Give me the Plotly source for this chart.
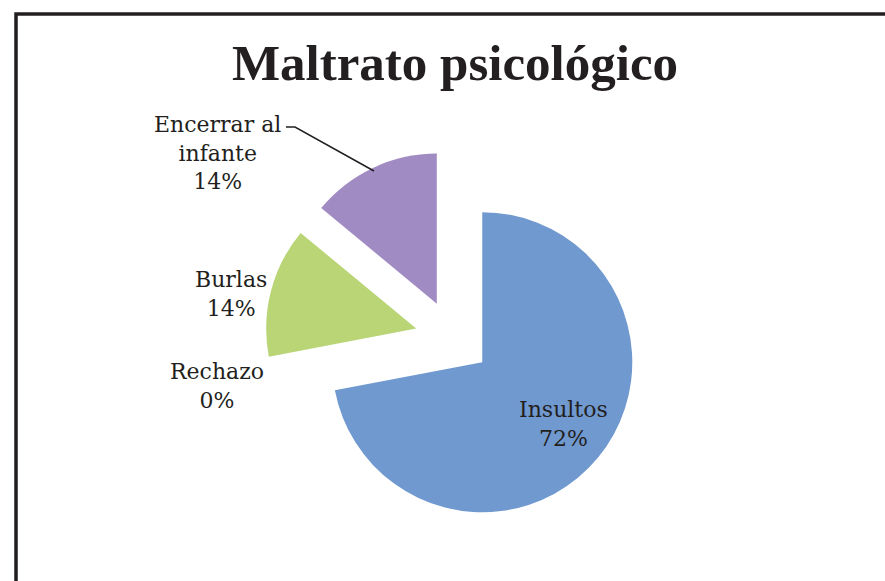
import plotly.graph_objects as go

# Data
categories = ["Insultos", "Rechazo", "Burlas", "Encerrar al infante"]
display_labels = ["Insultos", "Rechazo", "Burlas", "Encerrar al<br>infante"]
values = [72, 0, 14, 14]
slice_colors = ["#7099d0", "#b7d36f", "#b9d575", "#a18bc3"]

W, H = 885, 581
total = sum(values)
pcts = [round(v / total * 100) for v in values]

fig = go.Figure()
fig.add_trace(go.Pie(
    labels=categories,
    values=values,
    sort=False,
    direction="clockwise",
    rotation=0,
    pull=[0.253, 0.253, 0.253, 0.253],
    marker=dict(colors=slice_colors, line=dict(width=0)),
    textinfo="none",
    hoverinfo="label+percent",
    domain=dict(x=[265 / W, 641 / W], y=[1 - 526 / H, 1 - 150 / H]),
    showlegend=False,
))

# label positions (pixel centres of the text blocks)
label_pos = [(563, 424), (217, 386), (231, 294), (217, 153)]
for lab, p, (px, py) in zip(display_labels, pcts, label_pos):
    fig.add_annotation(
        x=px / W, y=1 - py / H, xref="paper", yref="paper",
        text=f"{lab}<br>{p}%", showarrow=False,
        xanchor="center", yanchor="middle", align="center",
        font=dict(family="DejaVu Serif", size=22, color="#231f20"),
    )

# leader line for "Encerrar al infante"
def P(px, py):
    return px / W, 1 - py / H

x0, y0 = P(286, 127)
x1, y1 = P(295, 127)
x2, y2 = P(374, 171)
fig.add_shape(type="path", xref="paper", yref="paper",
              path=f"M {x0} {y0} L {x1} {y1} L {x2} {y2}",
              line=dict(color="#231f20", width=1.5))

# frame
fx0, fy0 = P(16, 14)
fig.add_shape(type="rect", xref="paper", yref="paper",
              x0=fx0, y0=fy0, x1=1.05, y1=-0.05,
              line=dict(color="#231f20", width=3.5), layer="above")

fig.update_layout(
    width=W, height=H,
    margin=dict(l=0, r=0, t=0, b=0),
    paper_bgcolor="white", plot_bgcolor="white",
    title=dict(text="<b>Maltrato psicológico</b>", x=455 / W, xanchor="center",
               y=1 - 62 / H, yanchor="middle", yref="container",
               font=dict(family="Liberation Serif", size=51, color="#231f20")),
)

fig.write_html("out.html",
               config={"displayModeBar": False},
               post_script="document.body.style.margin='0px';document.body.style.overflow='hidden';")
